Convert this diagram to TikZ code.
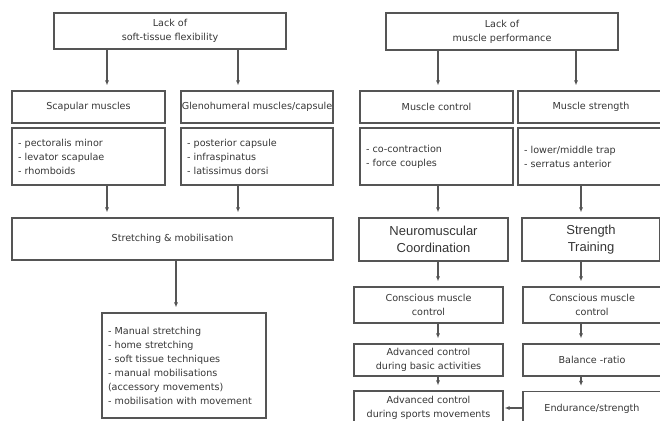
\documentclass[tikz,border=0pt]{standalone}
\usepackage{fontspec}
\setmainfont{DejaVu Sans}
\newfontfamily\arialf{Liberation Sans}
\usetikzlibrary{arrows.meta}
\definecolor{linec}{HTML}{555555}
\definecolor{textc}{HTML}{353535}
\begin{document}
\begin{tikzpicture}[x=1pt,y=-1pt,
  box/.style={draw=linec, line width=1.1pt, inner sep=0pt, align=center, text=textc,
    font=\fontsize{9.6}{14}\selectfont},
  lst/.style={box, align=left, inner xsep=6pt},
  big/.style={box, font=\arialf\fontsize{13}{16.5}\selectfont},
  arr/.style={draw=linec, line width=1.1pt, -{Latex[length=5pt,width=4pt]}, shorten >=5pt}]
\useasboundingbox (0,0) rectangle (660,420);
% left column
\node[box, minimum width=232pt, minimum height=36pt] (lf) at (170,31) {Lack of\\soft-tissue flexibility};
\node[box, minimum width=153pt, minimum height=32pt] (scap) at (88.5,107) {Scapular muscles};
\node[box, minimum width=152pt, minimum height=32pt] (glen) at (257,107) {Glenohumeral muscles/capsule};
\node[lst, minimum width=153pt, minimum height=57pt, text width=141pt] (scapl) at (88.5,156.5) {- pectoralis minor\\- levator scapulae\\- rhomboids};
\node[lst, minimum width=152pt, minimum height=57pt, text width=140pt] (glenl) at (257,156.5) {- posterior capsule\\- infraspinatus\\- latissimus dorsi};
\node[box, minimum width=321pt, minimum height=42pt] (str) at (172.5,239) {Stretching \& mobilisation};
\node[lst, minimum width=164pt, minimum height=105pt, text width=152pt] (bl) at (184,365.5) {- Manual stretching\\- home stretching\\- soft tissue techniques\\- manual mobilisations\\(accessory movements)\\- mobilisation with movement\\[4pt]};
% right column
\node[box, minimum width=232pt, minimum height=37pt] (lmp) at (502,31.5) {Lack of\\muscle performance};
\node[box, minimum width=153pt, minimum height=32pt] (mc) at (436.5,107) {Muscle control};
\node[box, minimum width=146pt, minimum height=32pt] (ms) at (591,107) {Muscle strength};
\node[lst, minimum width=153pt, minimum height=57pt, text width=141pt] (mcl) at (436.5,156.5) {- co-contraction\\- force couples};
\node[lst, minimum width=146pt, minimum height=57pt, text width=134pt] (msl) at (591,156.5) {- lower/middle trap\\- serratus anterior};
\node[big, minimum width=149pt, minimum height=43pt] (nc) at (433.5,239.5) {Neuromuscular\\Coordination};
\node[big, minimum width=138pt, minimum height=43pt] (st) at (591,239.5) {Strength\\Training};
\node[box, minimum width=149pt, minimum height=36pt] (ccl) at (428.5,305) {Conscious muscle\\control};
\node[box, minimum width=138pt, minimum height=36pt] (ccr) at (592,305) {Conscious muscle\\control};
\node[box, minimum width=149pt, minimum height=32pt] (acb) at (428.5,360) {Advanced control\\during basic activities};
\node[box, minimum width=138pt, minimum height=32pt] (br) at (592,360) {Balance -ratio};
\node[box, minimum width=149pt, minimum height=34pt] (acs) at (428.5,408) {Advanced control\\during sports movements};
\node[box, minimum width=138pt, minimum height=34pt] (es) at (592,408.5) {Endurance/strength};
% connectors left
\draw[arr] (107,0 |- lf.south) -- (107,0 |- scap.north);
\draw[arr] (238,0 |- lf.south) -- (238,0 |- glen.north);
\draw[arr] (107,0 |- scapl.south) -- (107,0 |- str.north);
\draw[arr] (238,0 |- glenl.south) -- (238,0 |- str.north);
\draw[arr] (176,0 |- str.south) -- (176,0 |- bl.north);
% connectors right
\draw[arr] (438,0 |- lmp.south) -- (438,0 |- mc.north);
\draw[arr] (576,0 |- lmp.south) -- (576,0 |- ms.north);
\draw[arr] (438,0 |- mcl.south) -- (438,0 |- nc.north);
\draw[arr] (581,0 |- msl.south) -- (581,0 |- st.north);
\draw[arr] (438,0 |- nc.south) -- (438,0 |- ccl.north);
\draw[arr] (581,0 |- st.south) -- (581,0 |- ccr.north);
\draw[arr] (438,0 |- ccl.south) -- (438,0 |- acb.north);
\draw[arr] (581,0 |- ccr.south) -- (581,0 |- br.north);
\draw[arr] (438,0 |- acb.south) -- (438,0 |- acs.north);
\draw[arr] (581,0 |- br.south) -- (581,0 |- es.north);
\draw[arr, shorten >=1pt] (es.west |- 0,408) -- (acs.east |- 0,408);
\end{tikzpicture}
\end{document}
